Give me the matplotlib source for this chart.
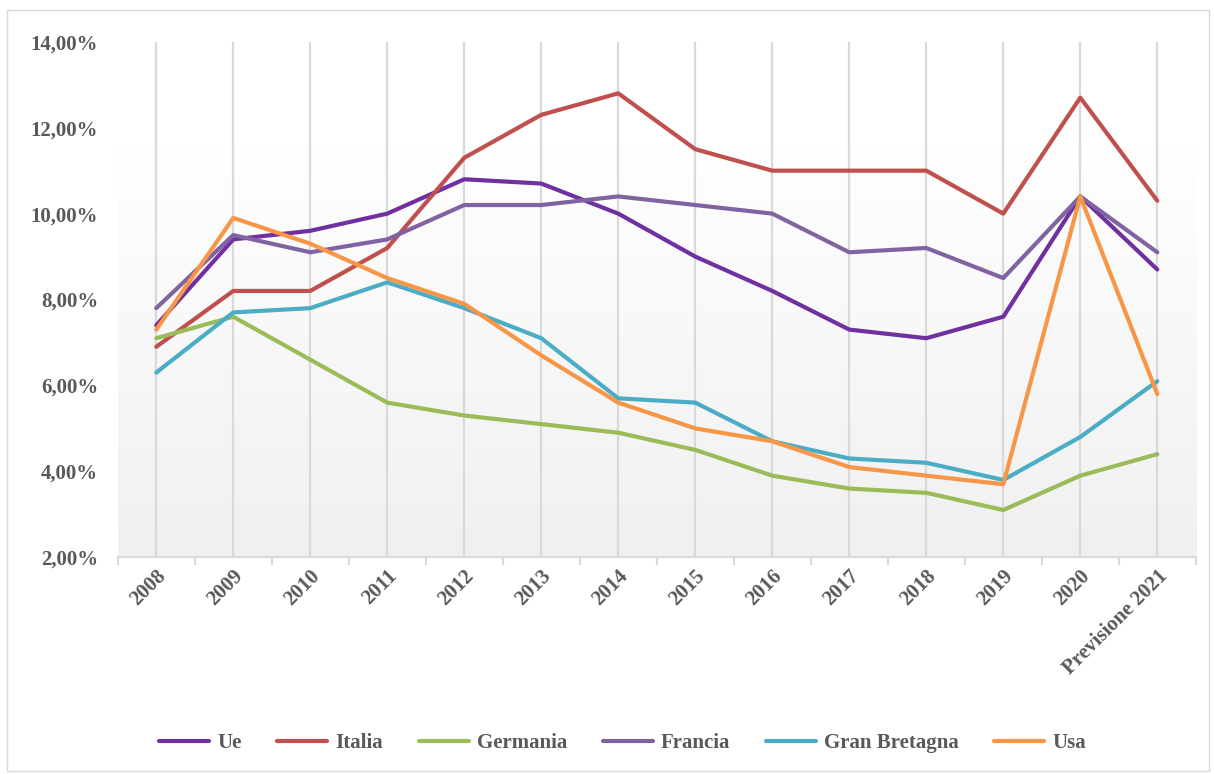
import matplotlib
matplotlib.use("Agg")
import matplotlib.pyplot as plt
import numpy as np
from matplotlib.patches import Rectangle
from matplotlib.ticker import FuncFormatter, FixedLocator

categories = ["2008", "2009", "2010", "2011", "2012", "2013", "2014", "2015",
              "2016", "2017", "2018", "2019", "2020", "Previsione 2021"]
ue = [7.4, 9.4, 9.6, 10.0, 10.8, 10.7, 10.0, 9.0, 8.2, 7.3, 7.1, 7.6, 10.4, 8.7]
italia = [6.9, 8.2, 8.2, 9.2, 11.3, 12.3, 12.8, 11.5, 11.0, 11.0, 11.0, 10.0, 12.7, 10.3]
germania = [7.1, 7.6, 6.6, 5.6, 5.3, 5.1, 4.9, 4.5, 3.9, 3.6, 3.5, 3.1, 3.9, 4.4]
francia = [7.8, 9.5, 9.1, 9.4, 10.2, 10.2, 10.4, 10.2, 10.0, 9.1, 9.2, 8.5, 10.4, 9.1]
gran_bretagna = [6.3, 7.7, 7.8, 8.4, 7.8, 7.1, 5.7, 5.6, 4.7, 4.3, 4.2, 3.8, 4.8, 6.1]
usa = [7.3, 9.9, 9.3, 8.5, 7.9, 6.7, 5.6, 5.0, 4.7, 4.1, 3.9, 3.7, 10.4, 5.8]

series = [("Ue", ue, "#7030A0"), ("Italia", italia, "#C0504D"),
          ("Germania", germania, "#9BBB59"), ("Francia", francia, "#8064A2"),
          ("Gran Bretagna", gran_bretagna, "#4BACC6"), ("Usa", usa, "#F79646")]

plt.rcParams['font.family'] = ['Liberation Serif', 'DejaVu Serif']
txt_color = "#595959"
fs = 15

fig = plt.figure(figsize=(12.14, 7.74), dpi=100)
fig.patches.append(Rectangle((0.006, 0.004), 0.99, 0.983, transform=fig.transFigure,
                             fill=False, edgecolor="#D9D9D9", linewidth=1.0))
ax = fig.add_axes([0.097, 0.280, 0.888, 0.666])

x = np.arange(len(categories))

# gradient background
grad = np.linspace(1.0, 0.0, 256).reshape(-1, 1)
cmap = matplotlib.colors.LinearSegmentedColormap.from_list(
    "g", [(0.0, "#F0F0F0"), (0.8, "#FFFFFF"), (1.0, "#FFFFFF")])
ax.imshow(grad, aspect="auto", cmap=cmap, extent=[-0.5, len(categories) - 0.5, 2, 14],
          origin="upper", zorder=0)
ax.set_xlim(-0.5, len(categories) - 0.5)
ax.set_ylim(2, 14)

for xi in x:
    ax.axvline(xi, color="#D9D9D9", linewidth=1.6, zorder=1)

for name, vals, col in series:
    ax.plot(x, vals, color=col, linewidth=3.0, label=name, zorder=3,
            solid_joinstyle="round", solid_capstyle="round")

for s in ["top", "right", "left"]:
    ax.spines[s].set_visible(False)
ax.spines["bottom"].set_color("#D9D9D9")
ax.spines["bottom"].set_linewidth(1.5)

ax.set_yticks([2, 4, 6, 8, 10, 12, 14])
ax.yaxis.set_major_formatter(FuncFormatter(lambda v, p: f"{v:.2f}".replace(".", ",") + "%"))
ax.tick_params(axis="y", length=0, pad=14, labelsize=fs, labelcolor=txt_color)

ax.xaxis.set_major_locator(FixedLocator(np.arange(-0.5, len(categories), 1.0)))
ax.xaxis.set_major_formatter(FuncFormatter(lambda v, p: ""))
ax.xaxis.set_minor_locator(FixedLocator(x))
ax.set_xticklabels(categories, minor=True)
ax.tick_params(axis="x", which="major", length=6, color="#D9D9D9", width=1.5, direction="out")
ax.tick_params(axis="x", which="minor", length=0, pad=6, labelsize=fs, labelcolor=txt_color)
for lab in ax.get_xticklabels(minor=True):
    lab.set_rotation(45)
    lab.set_ha("right")
    lab.set_va("top")
    lab.set_rotation_mode("anchor")
    lab.set_fontweight("bold")
for lab in ax.get_yticklabels():
    lab.set_fontweight("bold")

leg = fig.legend(loc="center", bbox_to_anchor=(0.513, 0.04), ncol=6, frameon=False,
                 handlelength=2.4, columnspacing=1.7, handletextpad=0.4,
                 prop={"size": fs, "weight": "bold"})
for t in leg.get_texts():
    t.set_color(txt_color)

fig.savefig("out.png", dpi=100)
